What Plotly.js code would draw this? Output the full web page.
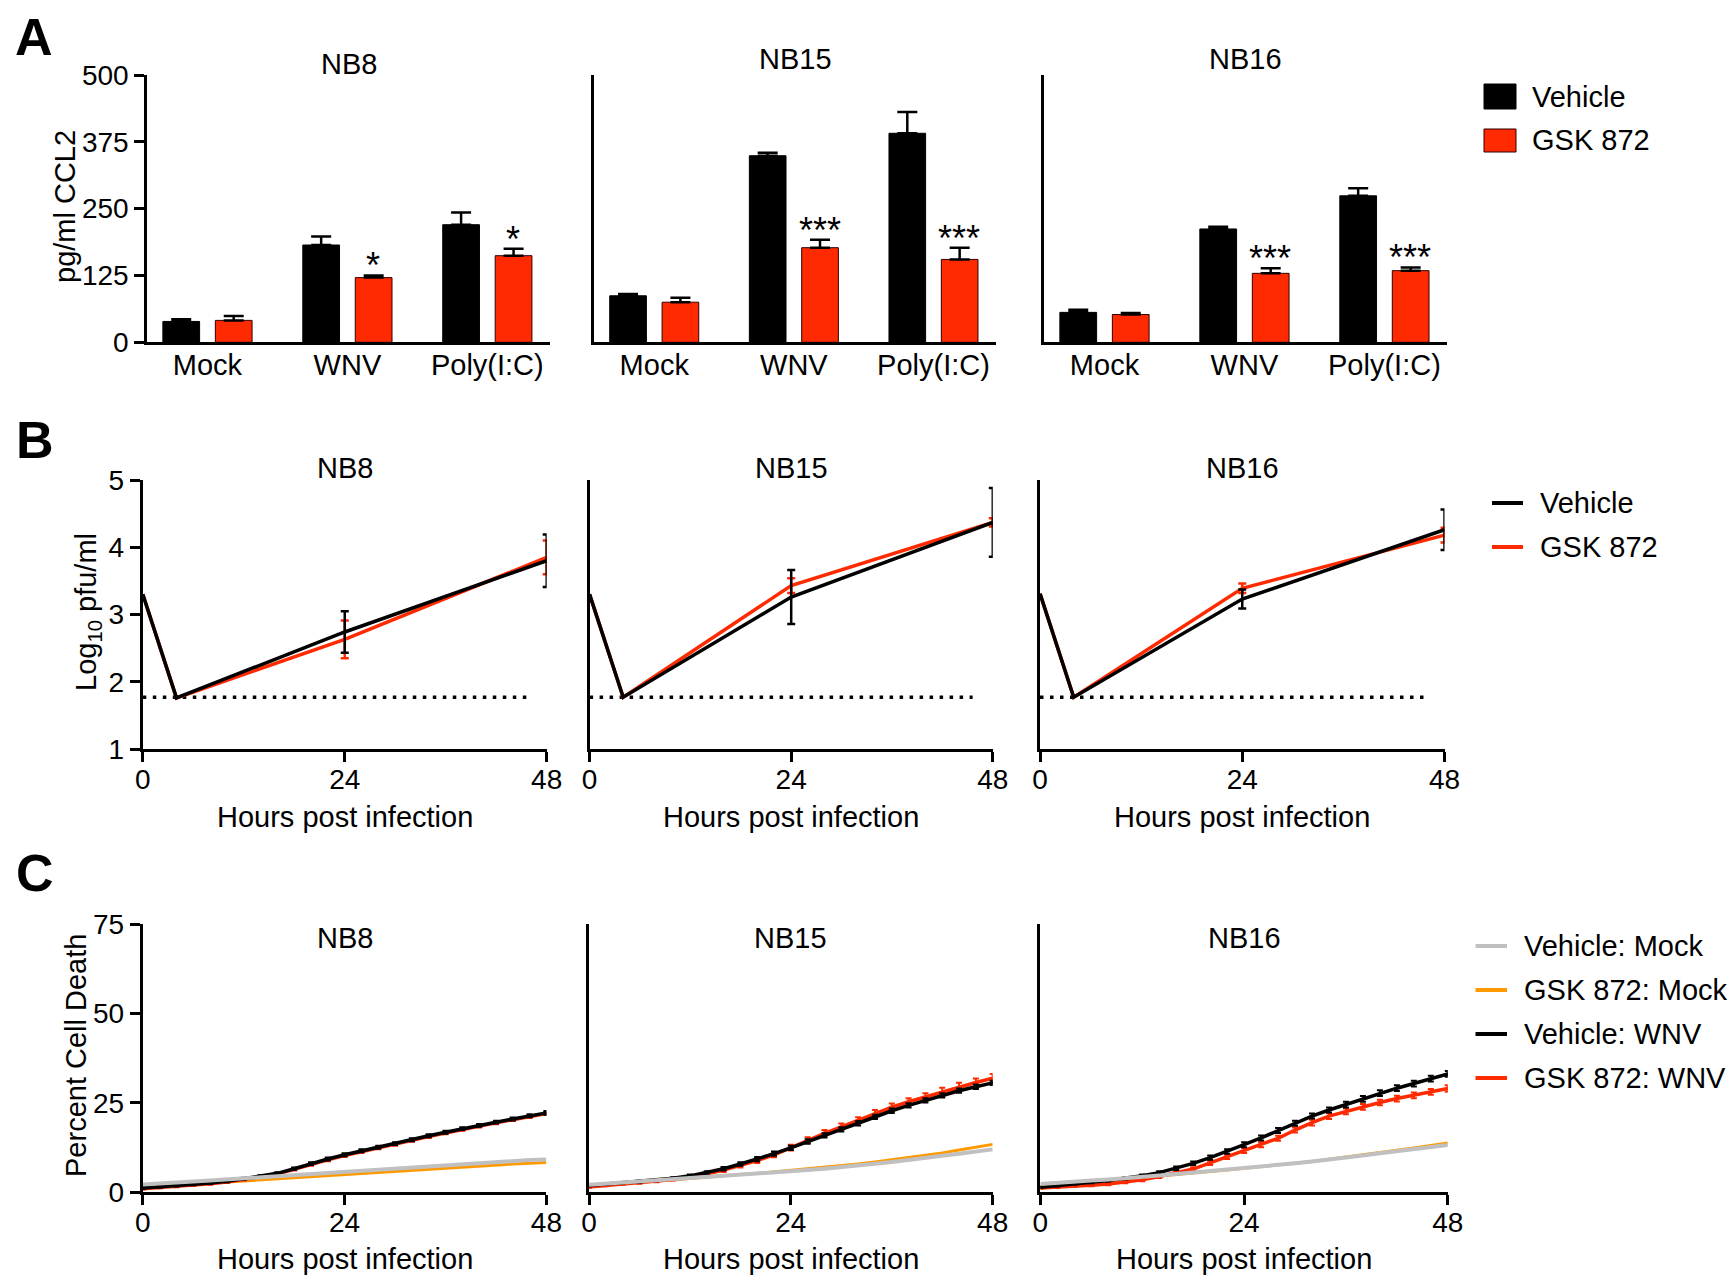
<!DOCTYPE html>
<html>
<head>
<meta charset="utf-8">
<script src="https://cdn.plot.ly/plotly-3.0.1.min.js"></script>
<style>
html,body{margin:0;padding:0;background:#ffffff;}
#chart{width:1732px;height:1278px;}
</style>
</head>
<body>
<div id="chart"></div>
<script>
// ===================== DATA =====================
const cellLines = ['NB8', 'NB15', 'NB16'];
const treatments = ['Mock', 'WNV', 'Poly(I:C)'];

// Panel A: pg/ml CCL2 (mean and upper error), one row per cell line
const ccl2Vehicle    = [[39, 182, 220], [87, 349, 391], [56, 212, 274]];
const ccl2VehicleErr = [[4, 16, 23],    [3.5, 5.5, 40], [5, 4, 14]];
const ccl2Gsk        = [[41, 121, 162], [75, 177, 155], [52, 129, 134]];
const ccl2GskErr     = [[8, 4, 13],     [8.5, 15, 22],  [3, 9.6, 6]];
const ccl2Stars      = [['', '*', '*'], ['', '***', '***'], ['', '***', '***']];
const ccl2Ticks      = [0, 125, 250, 375, 500];

// Panel B: Log10 pfu/ml
const titerHours      = [0, 4, 24, 48];
const titerVehicle    = [[3.30, 1.76, 2.74, 3.80], [3.30, 1.77, 3.26, 4.37], [3.31, 1.77, 3.23, 4.26]];
const titerVehicleErr = [[0, 0, 0.31, 0.39],       [0, 0, 0.40, 0.51],       [0, 0, 0.14, 0.30]];
const titerGsk        = [[3.30, 1.76, 2.63, 3.85], [3.30, 1.77, 3.43, 4.37], [3.31, 1.77, 3.39, 4.18]];
const titerGskErr     = [[0, 0, 0.28, 0.25],       [0, 0, 0.11, 0.06],       [0, 0, 0.07, 0.11]];
const detectionLimitHours = [0, 45.6];
const detectionLimit      = [1.77, 1.77];
const titerTicks = [1, 2, 3, 4, 5];
const hourTicks  = [0, 24, 48];

// Panel C: Percent cell death
const deathHours = [0, 2, 4, 6, 8, 10, 12, 14, 16, 18, 20, 22, 24, 26, 28, 30, 32, 34, 36, 38, 40, 42, 44, 46, 48];
const deathVehicleMock = [
  [2.2, 2.4, 2.7, 3.0, 3.3, 3.6, 3.9, 4.2, 4.6, 4.9, 5.3, 5.6, 5.9, 6.2, 6.5, 6.8, 7.1, 7.4, 7.7, 8.0, 8.2, 8.5, 8.7, 9.0, 9.2],
  [2.1, 2.4, 2.7, 3.0, 3.3, 3.6, 4.0, 4.3, 4.6, 4.9, 5.2, 5.5, 5.9, 6.2, 6.6, 7.0, 7.5, 8.0, 8.5, 9.0, 9.6, 10.2, 10.8, 11.4, 12.0],
  [2.3, 2.7, 3.0, 3.3, 3.6, 3.9, 4.3, 4.7, 5.1, 5.5, 5.9, 6.3, 6.7, 7.1, 7.6, 8.1, 8.6, 9.1, 9.7, 10.3, 10.9, 11.5, 12.1, 12.7, 13.2]
];
const deathGskMock = [
  [1.4, 1.7, 2.0, 2.3, 2.6, 3.0, 3.3, 3.6, 3.9, 4.2, 4.5, 4.8, 5.1, 5.4, 5.7, 6.0, 6.3, 6.6, 6.9, 7.2, 7.5, 7.7, 7.9, 8.1, 8.3],
  [1.6, 2.0, 2.4, 2.8, 3.1, 3.5, 3.9, 4.3, 4.6, 5.0, 5.3, 5.7, 6.1, 6.5, 6.9, 7.4, 7.9, 8.5, 9.1, 9.7, 10.3, 11.0, 11.8, 12.6, 13.4],
  [1.6, 2.0, 2.4, 2.8, 3.2, 3.6, 4.1, 4.5, 5.0, 5.4, 5.8, 6.2, 6.7, 7.1, 7.6, 8.1, 8.6, 9.2, 9.8, 10.4, 11.0, 11.7, 12.4, 13.1, 13.8]
];
const deathVehicleWnv = [
  [1.2, 1.5, 1.8, 2.2, 2.6, 3.1, 3.8, 4.5, 5.3, 6.6, 8.0, 9.3, 10.5, 11.6, 12.6, 13.6, 14.7, 15.8, 16.8, 17.8, 18.7, 19.6, 20.5, 21.4, 22.2],
  [1.9, 2.3, 2.7, 3.0, 3.4, 3.9, 4.6, 5.5, 6.6, 7.9, 9.3, 10.8, 12.4, 14.2, 15.9, 17.6, 19.3, 21.1, 22.8, 24.3, 25.7, 27.1, 28.4, 29.5, 30.6],
  [1.4, 1.8, 2.3, 2.8, 3.3, 3.9, 4.6, 5.5, 6.7, 8.1, 9.7, 11.4, 13.3, 15.2, 17.3, 19.3, 21.3, 23.0, 24.5, 26.1, 27.7, 29.1, 30.4, 31.8, 33.1]
];
const deathVehicleWnvErr = [
  [0.2, 0.2, 0.2, 0.2, 0.3, 0.3, 0.3, 0.3, 0.3, 0.3, 0.4, 0.4, 0.4, 0.4, 0.4, 0.4, 0.4, 0.4, 0.4, 0.4, 0.4, 0.4, 0.4, 0.4, 0.5],
  [0.2, 0.2, 0.2, 0.3, 0.3, 0.3, 0.4, 0.4, 0.5, 0.5, 0.6, 0.6, 0.6, 0.6, 0.6, 0.6, 0.6, 0.6, 0.6, 0.6, 0.6, 0.6, 0.6, 0.6, 0.6],
  [0.2, 0.2, 0.2, 0.3, 0.3, 0.3, 0.4, 0.4, 0.5, 0.5, 0.6, 0.6, 0.7, 0.7, 0.7, 0.7, 0.7, 0.7, 0.8, 0.8, 0.8, 0.8, 0.8, 0.8, 0.8]
];
const deathGskWnv = [
  [1.0, 1.3, 1.6, 2.0, 2.4, 2.9, 3.6, 4.3, 5.1, 6.4, 7.8, 9.1, 10.3, 11.4, 12.4, 13.4, 14.5, 15.6, 16.6, 17.6, 18.5, 19.4, 20.3, 21.2, 22.0],
  [1.5, 1.9, 2.3, 2.7, 3.1, 3.6, 4.3, 5.1, 6.2, 7.5, 8.9, 10.5, 12.5, 14.6, 16.5, 18.3, 20.1, 22.0, 23.8, 25.3, 26.7, 28.1, 29.5, 30.7, 31.9],
  [1.2, 1.4, 1.7, 2.0, 2.3, 2.8, 3.5, 4.4, 5.4, 6.5, 8.2, 9.9, 11.7, 13.3, 15.1, 17.4, 19.5, 21.3, 22.6, 23.9, 25.1, 26.2, 27.1, 28.1, 29.0]
];
const deathGskWnvErr = [
  [0.2, 0.2, 0.2, 0.2, 0.3, 0.3, 0.3, 0.3, 0.3, 0.3, 0.4, 0.4, 0.4, 0.4, 0.4, 0.4, 0.4, 0.4, 0.4, 0.4, 0.4, 0.4, 0.4, 0.4, 0.4],
  [0.2, 0.2, 0.2, 0.3, 0.3, 0.3, 0.4, 0.5, 0.5, 0.6, 0.7, 0.7, 0.8, 0.8, 0.9, 0.9, 0.9, 1.0, 1.0, 1.0, 1.0, 1.1, 1.1, 1.1, 1.2],
  [0.2, 0.2, 0.2, 0.3, 0.3, 0.3, 0.4, 0.4, 0.5, 0.5, 0.6, 0.6, 0.7, 0.7, 0.7, 0.7, 0.8, 0.8, 0.8, 0.8, 0.8, 0.8, 0.8, 0.8, 0.9]
];
const deathTicks = [0, 25, 50, 75];

const legendA = ['Vehicle', 'GSK 872'];
const legendC = ['Vehicle: Mock', 'GSK 872: Mock', 'Vehicle: WNV', 'GSK 872: WNV'];

// ===================== STYLE / LAYOUT =====================
const W = 1732, H = 1278;
const FONT = '"Liberation Sans", Arial, Helvetica, sans-serif';
const RED = '#FF2A00', ORANGE = '#FF9900', GRAY = '#C0C0C0', BLACK = '#000000';
const TICK = 28, LABEL = 29;

const colX = [
  [[147.3, 550.3], [594.2, 996.3], [1044.3, 1447.4]],
  [[142.8, 546.7], [589.6, 992.8], [1040.0, 1444.5]],
  [[142.8, 546.4], [589.0, 992.7], [1040.4, 1447.8]]
];
const rowY = [[75, 342.3], [480, 749], [924, 1192.3]];

function ids(r, c) {
  const n = r * 3 + c + 1;
  const s = n === 1 ? '' : String(n);
  return {xa: 'xaxis' + s, ya: 'yaxis' + s, x: 'x' + s, y: 'y' + s};
}
function axisBase() {
  return {showgrid: false, zeroline: false, showline: true, linecolor: BLACK, linewidth: 3,
          tickcolor: BLACK, tickwidth: 3, ticklen: 10, fixedrange: true,
          tickfont: {family: FONT, size: TICK, color: BLACK}};
}
const fx = v => v / W;
const fy = v => 1 - v / H;

const layout = {
  width: W, height: H, autosize: false,
  margin: {l: 0, r: 0, t: 0, b: 0, pad: 0},
  paper_bgcolor: '#ffffff', plot_bgcolor: 'rgba(0,0,0,0)',
  showlegend: false,
  barmode: 'group', bargap: 0.25, bargroupgap: 0.3,
  font: {family: FONT, size: LABEL, color: BLACK},
  annotations: [], shapes: []
};
const traces = [];
const ann = layout.annotations, shp = layout.shapes;

function textAnn(txt, x, y, opts) {
  ann.push(Object.assign({text: txt, x: fx(x), y: fy(y), xref: 'paper', yref: 'paper',
    showarrow: false, xanchor: 'center', yanchor: 'middle',
    font: {family: FONT, size: LABEL, color: BLACK}}, opts || {}));
}

// ---------- Panel A ----------
for (let c = 0; c < 3; c++) {
  const id = ids(0, c);
  const dx = colX[0][c], dy = rowY[0];
  layout[id.xa] = Object.assign(axisBase(), {
    domain: [fx(dx[0]), fx(dx[1])], anchor: id.y, type: 'category',
    categoryorder: 'array', categoryarray: treatments, range: [-0.43, 2.45],
    ticks: '', ticklabelstandoff: -5, tickfont: {family: FONT, size: LABEL, color: BLACK}});
  layout[id.ya] = Object.assign(axisBase(), {
    domain: [fy(dy[1]), fy(dy[0])], anchor: id.x, range: [0, 500],
    tickvals: ccl2Ticks, ticks: c === 0 ? 'outside' : '', showticklabels: c === 0});
  traces.push({type: 'bar', name: legendA[0], x: treatments, y: ccl2Vehicle[c],
    xaxis: id.x, yaxis: id.y, hoverinfo: 'skip',
    marker: {color: BLACK, line: {color: BLACK, width: 1}},
    error_y: {type: 'data', symmetric: false, array: ccl2VehicleErr[c], arrayminus: [0, 0, 0],
      color: BLACK, thickness: 2.5, width: 10}});
  traces.push({type: 'bar', name: legendA[1], x: treatments, y: ccl2Gsk[c],
    xaxis: id.x, yaxis: id.y, hoverinfo: 'skip',
    marker: {color: RED, line: {color: '#300000', width: 1}},
    error_y: {type: 'data', symmetric: false, array: ccl2GskErr[c], arrayminus: [0, 0, 0],
      color: BLACK, thickness: 2.5, width: 10}});
  ccl2Stars[c].forEach((s, i) => {
    if (!s) return;
    ann.push({text: s, x: treatments[i], y: ccl2Gsk[c][i] + ccl2GskErr[c][i], xref: id.x, yref: id.y,
      showarrow: false, xanchor: 'center', yanchor: 'bottom', xshift: 26, yshift: -13,
      font: {family: FONT, size: 36, color: BLACK}});
  });
  textAnn(cellLines[c], (dx[0] + dx[1]) / 2, c === 0 ? 64 : 59);
}

// ---------- Panel B ----------
const errNaN = a => a.map(v => (v > 0 ? v : NaN));
for (let c = 0; c < 3; c++) {
  const id = ids(1, c);
  const dx = colX[1][c], dy = rowY[1];
  layout[id.xa] = Object.assign(axisBase(), {
    domain: [fx(dx[0]), fx(dx[1])], anchor: id.y, range: [0, 48],
    tickvals: hourTicks, ticks: 'outside', ticklabelstandoff: -7});
  layout[id.ya] = Object.assign(axisBase(), {
    domain: [fy(dy[1]), fy(dy[0])], anchor: id.x, range: [1, 5],
    tickvals: titerTicks, ticks: c === 0 ? 'outside' : '', showticklabels: c === 0});
  traces.push({type: 'scatter', mode: 'lines', x: detectionLimitHours, y: detectionLimit,
    xaxis: id.x, yaxis: id.y, hoverinfo: 'skip', cliponaxis: false,
    line: {color: BLACK, width: 3.5, dash: '3.5px,6.5px'}});
  traces.push({type: 'scatter', mode: 'lines', name: legendA[1], x: titerHours, y: titerGsk[c],
    xaxis: id.x, yaxis: id.y, hoverinfo: 'skip', cliponaxis: false,
    line: {color: RED, width: 3.5},
    error_y: {type: 'data', array: errNaN(titerGskErr[c]), color: RED, thickness: 2.5, width: 4}});
  traces.push({type: 'scatter', mode: 'lines', name: legendA[0], x: titerHours, y: titerVehicle[c],
    xaxis: id.x, yaxis: id.y, hoverinfo: 'skip', cliponaxis: false,
    line: {color: BLACK, width: 3.5},
    error_y: {type: 'data', array: errNaN(titerVehicleErr[c]), color: BLACK, thickness: 2.5, width: 4}});
  textAnn(cellLines[c], (dx[0] + dx[1]) / 2, 468);
  textAnn('Hours post infection', (dx[0] + dx[1]) / 2, 817);
}

// ---------- Panel C ----------
for (let c = 0; c < 3; c++) {
  const id = ids(2, c);
  const dx = colX[2][c], dy = rowY[2];
  layout[id.xa] = Object.assign(axisBase(), {
    domain: [fx(dx[0]), fx(dx[1])], anchor: id.y, range: [0, 48],
    tickvals: hourTicks, ticks: 'outside', ticklabelstandoff: -7});
  layout[id.ya] = Object.assign(axisBase(), {
    domain: [fy(dy[1]), fy(dy[0])], anchor: id.x, range: [0, 75],
    tickvals: deathTicks, ticks: c === 0 ? 'outside' : '', showticklabels: c === 0});
  traces.push({type: 'scatter', mode: 'lines', name: legendC[1], x: deathHours, y: deathGskMock[c],
    xaxis: id.x, yaxis: id.y, hoverinfo: 'skip', cliponaxis: false, line: {color: ORANGE, width: 3}});
  traces.push({type: 'scatter', mode: 'lines', name: legendC[3], x: deathHours, y: deathGskWnv[c],
    xaxis: id.x, yaxis: id.y, hoverinfo: 'skip', cliponaxis: false, line: {color: RED, width: 3.5},
    error_y: {type: 'data', array: deathGskWnvErr[c], color: RED, thickness: 2, width: 3}});
  traces.push({type: 'scatter', mode: 'lines', name: legendC[2], x: deathHours, y: deathVehicleWnv[c],
    xaxis: id.x, yaxis: id.y, hoverinfo: 'skip', cliponaxis: false, line: {color: BLACK, width: 3.5},
    error_y: {type: 'data', array: deathVehicleWnvErr[c], color: BLACK, thickness: 2, width: 3}});
  traces.push({type: 'scatter', mode: 'lines', name: legendC[0], x: deathHours, y: deathVehicleMock[c],
    xaxis: id.x, yaxis: id.y, hoverinfo: 'skip', cliponaxis: false, line: {color: GRAY, width: 4}});
  textAnn(cellLines[c], (dx[0] + dx[1]) / 2, 938);
  textAnn('Hours post infection', (dx[0] + dx[1]) / 2, 1259);
}

// ---------- Axis titles ----------
textAnn('pg/ml CCL2', 65, 207, {textangle: -90});
textAnn('Log<sub>10</sub> pfu/ml', 88, 612, {textangle: -90});
textAnn('Percent Cell Death', 76, 1056, {textangle: -90});

// ---------- Panel letters ----------
textAnn('<b>A</b>', 34, 37, {font: {family: FONT, size: 52, color: BLACK}});
textAnn('<b>B</b>', 35, 440, {font: {family: FONT, size: 52, color: BLACK}});
textAnn('<b>C</b>', 35, 873, {font: {family: FONT, size: 52, color: BLACK}});

// ---------- Legends (drawn by hand) ----------
shp.push({type: 'rect', xref: 'paper', yref: 'paper', x0: fx(1484), x1: fx(1516), y0: fy(109), y1: fy(84),
  fillcolor: BLACK, line: {color: BLACK, width: 1}});
shp.push({type: 'rect', xref: 'paper', yref: 'paper', x0: fx(1484), x1: fx(1516), y0: fy(152), y1: fy(129),
  fillcolor: RED, line: {color: '#300000', width: 1}});
textAnn(legendA[0], 1530, 97, {xanchor: 'left'});
textAnn(legendA[1], 1530, 140, {xanchor: 'left'});
[[BLACK, 503], [RED, 547]].forEach((d, i) => {
  shp.push({type: 'line', xref: 'paper', yref: 'paper', x0: fx(1492), x1: fx(1523), y0: fy(d[1]), y1: fy(d[1]),
    line: {color: d[0], width: 4}});
  textAnn(legendA[i], 1538, d[1], {xanchor: 'left'});
});
[[GRAY, 946], [ORANGE, 990], [BLACK, 1034], [RED, 1078]].forEach((d, i) => {
  shp.push({type: 'line', xref: 'paper', yref: 'paper', x0: fx(1475.5), x1: fx(1507), y0: fy(d[1]), y1: fy(d[1]),
    line: {color: d[0], width: 4}});
  textAnn(legendC[i], 1522, d[1], {xanchor: 'left'});
});

Plotly.newPlot('chart', traces, layout, {staticPlot: true, displayModeBar: false});
</script>
</body>
</html>
